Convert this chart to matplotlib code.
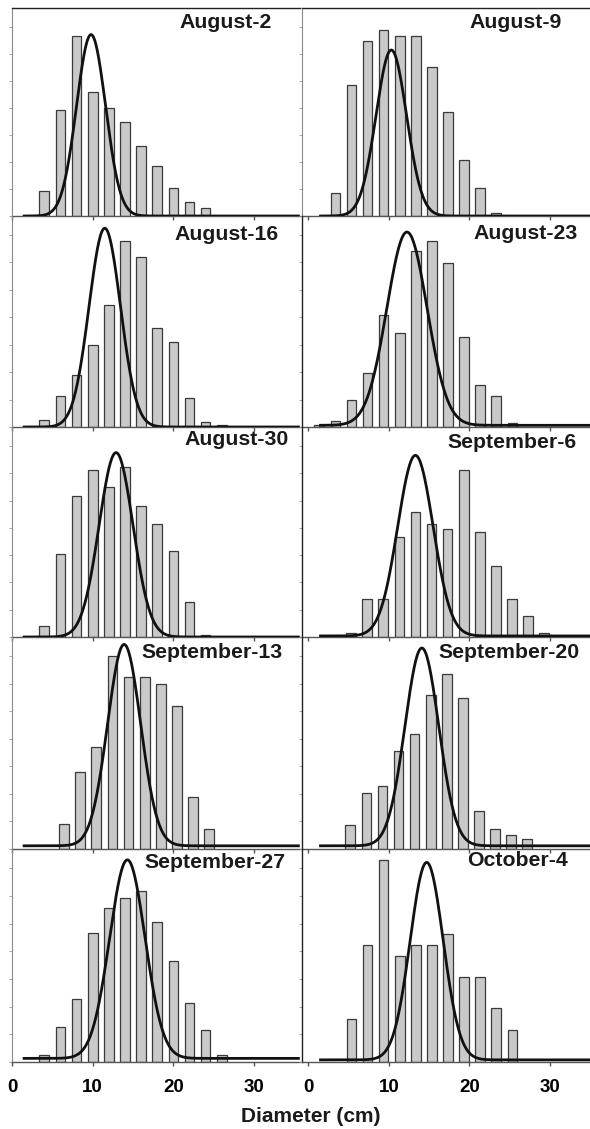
import numpy as np
import matplotlib.pyplot as plt

plt.rcParams['font.family'] = ['Liberation Sans', 'DejaVu Sans']

FIG_W, FIG_H = 590, 1129
PANEL_W = 288

# sampling dates, read row by row (left column, right column)
DATES = ["August-2", "August-9", "August-16", "August-23", "August-30",
         "September-6", "September-13", "September-20", "September-27", "October-4"]

# midpoint of the first 2-cm diameter class shown for each date
FIRST_MID = [4.0, 3.35, 4.0, 1.35, 4.0, 5.3, 6.45, 5.2, 4.0, 5.35]

# relative frequency per diameter class
aug2 = [12.2, 51.0, 86.4, 59.6, 51.7, 45.0, 33.5, 24.0, 13.3, 6.9, 3.7]
aug9 = [11.0, 63.2, 84.0, 89.2, 86.6, 86.6, 71.5, 50.0, 27.1, 13.4, 1.3]
aug16 = [3.2, 14.7, 24.6, 38.7, 57.7, 88.2, 80.7, 46.9, 40.3, 13.9, 2.4, 0.8]
aug23 = [0.8, 2.7, 12.7, 25.6, 53.3, 44.4, 83.2, 88.3, 77.5, 42.5, 19.7, 14.8, 1.7]
aug30 = [5.2, 39.6, 67.2, 79.3, 71.5, 80.8, 62.3, 53.9, 40.9, 16.7, 0.8]
sep6 = [1.9, 17.9, 17.9, 47.6, 59.7, 53.8, 51.6, 79.7, 49.8, 33.8, 17.9, 10.0, 1.9]
sep13 = [11.6, 36.1, 47.9, 91.0, 81.0, 81.0, 77.8, 67.5, 24.7, 9.5]
sep20 = [11.3, 26.2, 29.6, 46.1, 54.4, 72.7, 82.7, 71.1, 17.8, 9.5, 6.4, 4.5]
sep27 = [3.1, 16.2, 29.6, 60.7, 72.3, 77.2, 80.5, 65.7, 47.5, 27.8, 14.8, 3.1]
oct4 = [20.0, 55.0, 94.9, 50.0, 55.0, 55.0, 60.0, 40.1, 40.1, 25.2, 15.1]

FREQS = [aug2, aug9, aug16, aug23, aug30, sep6, sep13, sep20, sep27, oct4]

# fitted normal curve for each date: mean (cm), sd (cm), peak height, base level
FIT_MEAN = [9.8, 10.3, 11.5, 12.25, 12.9, 13.3, 13.9, 14.1, 14.3, 14.7]
FIT_SD = [1.8, 1.9, 1.95, 2.5, 2.1, 2.2, 2.05, 2.1, 2.2, 2.05]
FIT_PEAK = [87.2, 79.8, 94.2, 91.6, 87.8, 86.0, 95.0, 93.3, 93.2, 92.7]
FIT_BASE = [0.0, 0.0, 0.0, 0.8, 0.0, 0.5, 1.5, 1.5, 1.7, 1.0]

# row edges in pixels (top, bottom)
ROW_EDGES = [(8, 216), (216, 427), (427, 637), (637, 849), (849, 1062)]
COL_LEFT = [12, 302]
COL_XLIM = [(0, 35.7), (-0.8, 35.0)]

# date label placement inside each panel, pixels from right edge / top edge
TITLE_RIGHT = [28, 28, 21, 12, 11, 13, 17, 10, 15, 22]
TITLE_DOWN = [15, 14, 18, 17, 13, 16, 15, 16, 13, 12]

BAR_COLOR = "#c9c9c9"
EDGE_COLOR = "#3a3a3a"


def panel_box(col, row):
    top, bottom = ROW_EDGES[row]
    return [COL_LEFT[col] / FIG_W, 1 - bottom / FIG_H,
            PANEL_W / FIG_W, (bottom - top) / FIG_H]


def draw_panel(ax, i, col, row):
    freq = np.array(FREQS[i])
    mids = FIRST_MID[i] + 2 * np.arange(len(freq))
    ax.bar(mids, freq, width=1.2, color=BAR_COLOR, edgecolor=EDGE_COLOR,
           linewidth=0.9, zorder=2)

    x = np.linspace(1.5, 35.5, 600)
    curve = FIT_BASE[i] + FIT_PEAK[i] * np.exp(-0.5 * ((x - FIT_MEAN[i]) / FIT_SD[i]) ** 2)
    ax.plot(x, curve, color="#111111", lw=2.0, zorder=3)

    ax.set_xlim(*COL_XLIM[col])
    ax.set_ylim(0, 100)

    h_px = ROW_EDGES[row][1] - ROW_EDGES[row][0]
    ax.text(1 - TITLE_RIGHT[i] / PANEL_W, 1 - TITLE_DOWN[i] / h_px, DATES[i],
            transform=ax.transAxes, ha="right", va="center", fontsize=15.3,
            fontweight="bold", color="#1a1a1a", zorder=4)

    # frame: thin baseline and side lines
    ax.spines["bottom"].set_color("#555555")
    ax.spines["bottom"].set_linewidth(1.0)
    ax.spines["right"].set_visible(False)
    if col == 1 and row > 0:
        ax.spines["left"].set_color("#222222")
        ax.spines["left"].set_linewidth(1.0)
    else:
        ax.spines["left"].set_color("#8a8a8a")
        ax.spines["left"].set_linewidth(0.8)
    if row == 0:
        ax.spines["top"].set_color("#222222")
        ax.spines["top"].set_linewidth(1.0)
    else:
        ax.spines["top"].set_visible(False)

    ax.set_yticks(np.arange(0, 100, 13))
    ax.tick_params(axis="y", length=2, width=0.6, color="#999999",
                   labelleft=False)
    ax.set_xticks([0, 10, 20, 30])
    ax.tick_params(axis="x", direction="out", length=3, width=1.0,
                   color="#555555", pad=9, labelsize=13.5)
    if row == len(ROW_EDGES) - 1:
        for label in ax.get_xticklabels():
            label.set_fontweight("bold")
    else:
        ax.tick_params(axis="x", labelbottom=False)
    ax.patch.set_alpha(0)


def main():
    fig = plt.figure(figsize=(FIG_W / 100, FIG_H / 100), dpi=100)
    for i in range(len(DATES)):
        row, col = divmod(i, 2)
        ax = fig.add_axes(panel_box(col, row))
        draw_panel(ax, i, col, row)

    fig.text(311 / FIG_W, 1 - 1116 / FIG_H, "Diameter (cm)", ha="center",
             va="center", fontsize=15, fontweight="bold", color="#1a1a1a")
    fig.savefig("out.png", dpi=100, facecolor="white")


if __name__ == "__main__":
    main()
